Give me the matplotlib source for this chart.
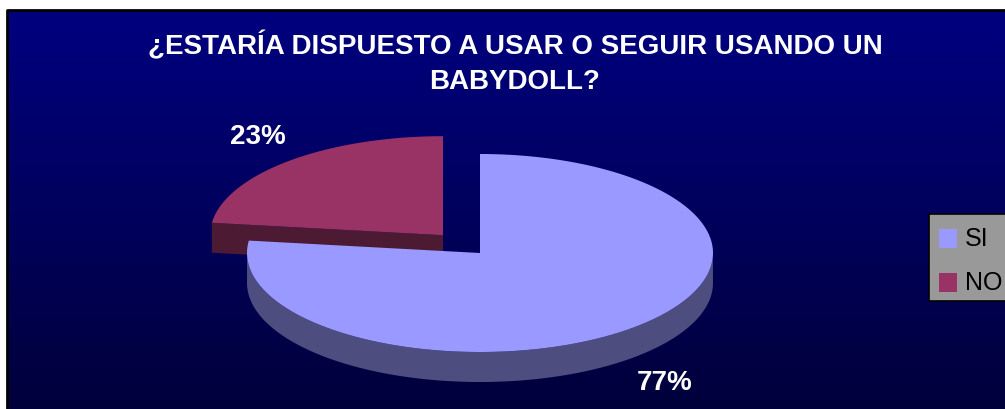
import numpy as np
import matplotlib.pyplot as plt
from matplotlib.patches import Polygon, Rectangle

plt.rcParams['font.family'] = ['Liberation Sans', 'DejaVu Sans']

# survey answers
categories = ['SI', 'NO']
values = [77, 23]
top_colors = ['#9999FF', '#993366']
side_colors = ['#4D4D80', '#4D1A33']

title = u'\u00bfESTAR\u00cdA DISPUESTO A USAR O SEGUIR USANDO UN\nBABYDOLL?'

W, H = 1005, 410
fig = plt.figure(figsize=(W / 100, H / 100), dpi=100)
ax = fig.add_axes([0, 0, 1, 1])
ax.set_xlim(0, W)
ax.set_ylim(H, 0)
ax.axis('off')

# chart area: dark blue gradient with a black frame
left, top = 7, 11
grad = np.linspace(0, 1, 256)[:, None]
c_top = np.array([0, 0, 128]) / 255
c_bot = np.array([0, 0, 58]) / 255
img = c_top[None, None, :] * (1 - grad[:, :, None]) + c_bot[None, None, :] * grad[:, :, None]
ax.imshow(img, extent=[left, W + 5, H + 5, top], aspect='auto', zorder=0)
ax.plot([left, left, W + 5], [H + 5, top, top], color='black', lw=2, zorder=1)

ax.text(515, 63, title, color='white', fontsize=20, fontweight='bold',
        ha='center', va='center', linespacing=1.4, zorder=5)

# 3-D pie geometry (pixels)
cx, cy = 480, 254
rx, ry = 233, 99
depth = 30
explode = [0.0, 0.24]

fracs = np.array(values) / np.sum(values)
starts = 90 - 360 * np.concatenate([[0], np.cumsum(fracs)[:-1]])
ends = starts - 360 * fracs


def ell(x0, y0, t, dy=0):
    t = np.radians(t)
    return np.column_stack([x0 + rx * np.cos(t), y0 - ry * np.sin(t) + dy])


def cut_face(x0, y0, a):
    rim = ell(x0, y0, [a])[0]
    return [(x0, y0), tuple(rim), (rim[0], rim[1] + depth), (x0, y0 + depth)]


# slices go clockwise from 12 o'clock; draw NO (back) first, then SI
for i in [1, 0]:
    a0, a1 = starts[i], ends[i]
    mid = np.radians((a0 + a1) / 2)
    x0 = cx + explode[i] * rx * np.cos(mid)
    y0 = cy - explode[i] * ry * np.sin(mid)
    ts = np.linspace(a0, a1, 300)
    z = 2 + 2 * (1 - i)

    # curved side on the front half
    front = ts[np.sin(np.radians(ts)) <= 0]
    if len(front) > 1:
        upper = ell(x0, y0, front)
        lower = ell(x0, y0, front[::-1], depth)
        ax.add_patch(Polygon(np.vstack([upper, lower]), closed=True,
                             facecolor=side_colors[i], edgecolor='none', zorder=z))
    # radial cut faces that turn towards the viewer
    if np.cos(np.radians(a0)) < -1e-6:
        ax.add_patch(Polygon(cut_face(x0, y0, a0), closed=True,
                             facecolor=side_colors[i], edgecolor='none', zorder=z))
    if np.cos(np.radians(a1)) > 1e-6:
        ax.add_patch(Polygon(cut_face(x0, y0, a1), closed=True,
                             facecolor=side_colors[i], edgecolor='none', zorder=z))
    # top face
    pts = np.vstack([[x0, y0], ell(x0, y0, ts)])
    ax.add_patch(Polygon(pts, closed=True, facecolor=top_colors[i],
                         edgecolor='none', zorder=z + 1))

    # percentage label
    lx = x0 + 1.2 * rx * np.cos(mid)
    ly = y0 - 1.33 * ry * np.sin(mid) + (depth if np.sin(mid) < 0 else 0)
    ax.text(lx, ly, '%d%%' % round(fracs[i] * 100), color='white', fontsize=20,
            fontweight='bold', ha='center', va='center', zorder=6)

# legend
ax.add_patch(Rectangle((929, 215), 90, 87, facecolor='#999999', edgecolor='black',
                       lw=1.2, zorder=6))
for k, (lab, col) in enumerate(zip(categories, top_colors)):
    yk = 239 + 44 * k
    ax.add_patch(Rectangle((939, yk - 9.5), 18, 19, facecolor=col, edgecolor='none', zorder=7))
    ax.text(965, yk, lab, color='black', fontsize=18, ha='left', va='center', zorder=7)

fig.savefig('out.png', dpi=100)
